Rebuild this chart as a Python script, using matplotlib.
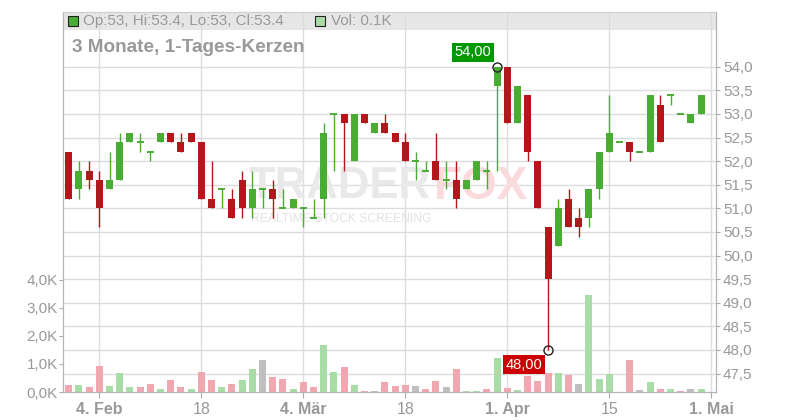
import numpy as np
import matplotlib
matplotlib.use('Agg')
from matplotlib import pyplot
from matplotlib.patches import Rectangle

# daily candles, x = trading day (0 = 4. Feb), prices in EUR, volume in K
days = list(range(-3, 60))
opens = [52.2, 51.4, 51.8, 51.6, 51.4, 51.6, 52.4, 52.4, 52.2, 52.4,
         52.6, 52.4, 52.6, 52.4, 51.2, 51.4, 51.2, 51.6, 51.0, 51.4,
         51.4, 51.0, 51.0, 51.0, 50.8, 51.2, 53.0, 53.0, 52.0, 53.0,
         52.6, 52.8, 52.6, 52.4, 52.0, 51.8, 52.0, 51.6, 51.6, 51.4,
         51.6, 51.8, 53.6, 54.0, 52.8, 53.4, 52.0, 50.6, 50.2, 51.2,
         50.8, 50.8, 51.4, 52.2, 52.4, 52.4, 52.2, 52.2, 53.2, 53.4,
         53.0, 52.8, 53.0]
highs = [52.2, 52.0, 52.0, 51.8, 52.2, 52.6, 52.6, 52.6, 52.2, 52.6,
         52.6, 52.6, 52.6, 52.4, 52.0, 51.4, 51.4, 51.8, 51.8, 51.4,
         51.6, 51.4, 51.2, 51.0, 51.2, 52.8, 53.0, 53.0, 53.0, 53.0,
         52.8, 53.0, 52.6, 52.6, 52.2, 52.0, 52.6, 52.0, 52.0, 51.6,
         52.0, 52.0, 54.0, 54.0, 53.6, 53.4, 52.0, 50.6, 51.2, 51.4,
         51.0, 51.4, 52.2, 53.4, 52.4, 52.4, 52.2, 53.4, 53.4, 53.4,
         53.0, 53.0, 53.4]
lows = [51.2, 51.2, 51.4, 50.6, 51.4, 51.6, 52.4, 52.2, 52.0, 52.4,
        52.4, 52.2, 52.4, 51.2, 51.0, 51.0, 50.8, 50.8, 50.8, 51.0,
        50.8, 51.0, 51.0, 50.6, 50.8, 50.8, 51.8, 51.8, 52.0, 52.8,
        52.6, 52.6, 52.4, 52.0, 51.6, 51.8, 51.6, 51.4, 51.0, 51.4,
        51.6, 51.4, 51.8, 52.8, 52.8, 52.0, 51.0, 48.0, 50.2, 50.6,
        50.4, 50.6, 51.2, 52.2, 52.4, 52.0, 52.2, 52.2, 52.4, 53.2,
        53.0, 52.8, 53.0]
closes = [51.2, 51.8, 51.6, 51.0, 51.6, 52.4, 52.6, 52.4, 52.2, 52.6,
          52.4, 52.2, 52.4, 51.2, 51.0, 51.4, 50.8, 51.0, 51.4, 51.4,
          51.2, 51.0, 51.2, 51.0, 50.8, 52.6, 53.0, 52.8, 53.0, 52.8,
          52.8, 52.6, 52.4, 52.0, 52.0, 51.8, 51.6, 51.6, 51.2, 51.6,
          52.0, 51.8, 54.0, 52.8, 53.6, 52.2, 51.0, 49.5, 51.0, 50.6,
          50.6, 51.4, 52.2, 52.6, 52.4, 52.2, 52.2, 53.4, 52.4, 53.4,
          53.0, 53.0, 53.4]
volumes = [0.26, 0.26, 0.19, 0.93, 0.22, 0.68, 0.19, 0.19, 0.29, 0.12,
           0.44, 0.19, 0.12, 0.72, 0.44, 0.19, 0.29, 0.44, 0.82, 1.14,
           0.54, 0.47, 0.12, 0.36, 0.19, 1.67, 0.72, 0.89, 0.26, 0.05,
           0.05, 0.36, 0.22, 0.26, 0.22, 0.12, 0.40, 0.19, 0.82, 0.05,
           0.05, 0.12, 1.21, 0.15, 0.08, 0.58, 0.40, 0.68, 0.68, 0.61,
           0.29, 3.47, 0.47, 0.65, 0.00, 1.14, 0.08, 0.36, 0.12, 0.12,
           0.05, 0.12, 0.12]

tick_days = [0, 10, 20, 30, 40, 50, 60]
tick_labels = ['4. Feb', '18', '4. Mär', '18', '1. Apr', '15', '1. Mai']
month_start = [True, False, True, False, True, False, True]
price_ticks = [47.5, 48.0, 48.5, 49.0, 49.5, 50.0, 50.5,
               51.0, 51.5, 52.0, 52.5, 53.0, 53.5, 54.0]
volume_ticks = [0, 1, 2, 3, 4]

high_mark = (39, 54.0)
low_mark = (44, 48.0)

GREEN = '#49ad33'
RED = '#b3171b'
VGREEN = '#a9dca6'
VRED = '#f0a7b0'
VGRAY = '#bfbfbf'
TEXT = '#999999'
GRID = '#dcdcdc'

pyplot.rcParams['font.family'] = ['Liberation Sans', 'DejaVu Sans']

x = np.array(days)
o = np.array(opens)
h = np.array(highs)
l = np.array(lows)
c = np.array(closes)
v = np.array(volumes)

fig = pyplot.figure(figsize=(8, 4.2), dpi=100)
ax = fig.add_axes([63.3 / 800, 28 / 420, 652.7 / 800, 380 / 420])
axv = ax.twinx()

# header band and grid
ax.add_patch(Rectangle((0, 0.9526), 1, 0.0474, transform=ax.transAxes,
                       facecolor='#e6e6e6', edgecolor='none', zorder=0.1))
ax.set_axisbelow(True)
ax.grid(True, color=GRID, linewidth=1.0)

# watermark
ax.text(0.284, 0.54, 'TRADER', transform=ax.transAxes, fontsize=31.5,
        fontweight='bold', color='#e9e9e9', va='center', zorder=0.6)
ax.text(0.567, 0.54, 'FOX', transform=ax.transAxes, fontsize=33,
        fontweight='bold', color='#fbdadd', va='center', zorder=0.6)
ax.text(0.287, 0.456, 'REALTIME STOCK SCREENING', transform=ax.transAxes,
        fontsize=8.7, color='#e2e2e2', va='center', zorder=0.6)

# candles
up = c >= o
colors = np.where(up, GREEN, RED)
body_lo = np.minimum(o, c)
body_h = np.abs(c - o)
ax.vlines(x, l, h, colors=colors, linewidth=1.0, zorder=2)
ax.bar(x, body_h, bottom=body_lo, width=0.68, color=colors, zorder=3)
flat = body_h == 0
ax.hlines(c[flat], x[flat] - 0.34, x[flat] + 0.34, colors=colors[flat],
          linewidth=1.4, zorder=3)

# volume, coloured by close against previous close
prev = np.concatenate([[o[0]], c[:-1]])
vcolors = np.where(c > prev, VGREEN, np.where(c < prev, VRED, VGRAY))
axv.bar(x, v, width=0.68, color=vcolors, zorder=1)

# high / low markers
for (dx, py), off, box in [(high_mark, 10.5, '#009a00'),
                           (low_mark, -10.5, '#cc0000')]:
    ax.plot(dx, py, 'o', markersize=6.5, markerfacecolor='none',
            markeredgecolor='#222222', markeredgewidth=1.0, zorder=6)
    ax.annotate('{:.2f}'.format(py).replace('.', ','), xy=(dx, py),
                xytext=(-17.5, off), textcoords='offset points',
                ha='center', va='center', fontsize=10.5, color='white',
                bbox=dict(boxstyle='square,pad=0.18', facecolor=box,
                          edgecolor='none'), zorder=7)

# axes
ax.set_xlim(-3.53, 60.46)
ax.set_ylim(47.11, 55.16)
axv.set_ylim(0, 13.57)

ax.yaxis.tick_right()
ax.set_yticks(price_ticks)
ax.set_yticklabels(['{:.1f}'.format(t).replace('.', ',') for t in price_ticks])
axv.yaxis.tick_left()
axv.set_yticks(volume_ticks)
axv.set_yticklabels(['{:.1f}K'.format(t).replace('.', ',') for t in volume_ticks])

ax.set_xticks(tick_days)
ax.set_xticklabels(tick_labels)
for lab, bold in zip(ax.get_xticklabels(), month_start):
    lab.set_fontweight('bold' if bold else 'normal')

ax.tick_params(axis='y', which='both', right=True, left=False,
               labelright=True, labelleft=False, length=3, pad=2,
               color='#aaaaaa', labelcolor=TEXT, labelsize=11)
axv.tick_params(axis='y', left=True, right=False, labelleft=True,
                labelright=False, length=3, pad=1, color='#aaaaaa',
                labelcolor=TEXT, labelsize=11)
ax.tick_params(axis='x', length=4, pad=3, color='#aaaaaa',
               labelcolor=TEXT, labelsize=11.5)

for a in (ax, axv):
    for side in ('left', 'bottom', 'right'):
        a.spines[side].set_color('#b4b4b4')
    a.spines['top'].set_color('#cfcfcf')

# header texts
ax.plot(0.0145, 0.977, 's', markersize=7, markerfacecolor=GREEN,
        markeredgecolor='#222222', markeredgewidth=0.8,
        transform=ax.transAxes, clip_on=False, zorder=8)
fig.text(83 / 800, 1 - 21 / 420,
         'Op:{:g}, Hi:{:g}, Lo:{:g}, Cl:{:g}'.format(o[-1], h[-1], l[-1], c[-1]),
         fontsize=11, color=TEXT, va='center')
ax.plot(0.394, 0.977, 's', markersize=7, markerfacecolor=VGREEN,
        markeredgecolor='#222222', markeredgewidth=0.8,
        transform=ax.transAxes, clip_on=False, zorder=8)
fig.text(331 / 800, 1 - 21 / 420, 'Vol: {:.1f}K'.format(v[-1]),
         fontsize=11, color=TEXT, va='center')
fig.text(71.5 / 800, 1 - 48 / 420, '3 Monate, 1-Tages-Kerzen',
         fontsize=13.7, fontweight='bold', color=TEXT, va='center')

fig.savefig('out.png', dpi=100)
